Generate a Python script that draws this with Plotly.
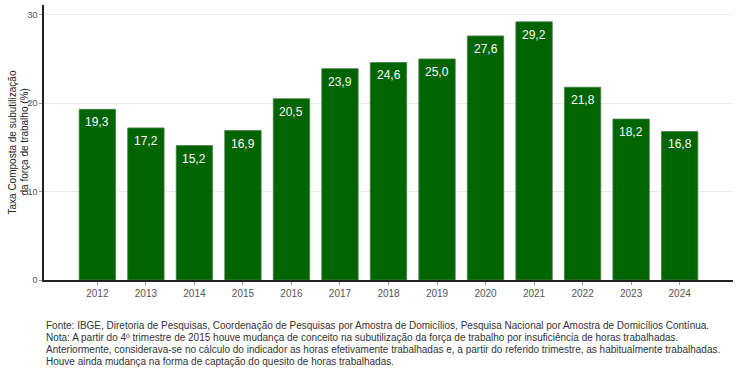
import plotly.graph_objects as go

years = [2012, 2013, 2014, 2015, 2016, 2017, 2018, 2019, 2020, 2021, 2022, 2023, 2024]
values = [19.3, 17.2, 15.2, 16.9, 20.5, 23.9, 24.6, 25.0, 27.6, 29.2, 21.8, 18.2, 16.8]
labels = [f"{v:.1f}".replace(".", ",") for v in values]
y_ticks = [0, 10, 20, 30]
y_title_lines = ["Taxa Composta de subutilização", "da força de trabalho (%)"]

footer_lines = [
    "Fonte: IBGE, Diretoria de Pesquisas, Coordenação de Pesquisas por Amostra de Domicílios, Pesquisa Nacional por Amostra de Domicílios Contínua.",
    "Nota: A partir do 4º trimestre de 2015 houve mudança de conceito na subutilização da força de trabalho por insuficiência de horas trabalhadas.",
    "Anteriormente, considerava-se no cálculo do indicador as horas efetivamente trabalhadas e, a partir do referido trimestre, as habitualmente trabalhadas.",
    "Houve ainda mudança na forma de captação do quesito de horas trabalhadas.",
]

fig = go.Figure()
fig.add_trace(go.Bar(
    x=years, y=values, width=0.75,
    marker=dict(color="#006400", line=dict(color="#4d7f4d", width=0.8)),
    hoverinfo="x+y",
))
for x, v, t in zip(years, values, labels):
    fig.add_annotation(x=x, y=v, text=t, showarrow=False, yanchor="top", yshift=-4,
                       font=dict(family="Liberation Sans, Arial", size=12, color="white"))

for i, line in enumerate(footer_lines):
    fig.add_annotation(xref="paper", yref="paper", x=0, y=0, xanchor="left", yanchor="middle",
                       yshift=-(45 + 12 * i), text=line, showarrow=False, align="left",
                       font=dict(family="Liberation Sans, Arial", size=10, color="#333333"))

for i, line in enumerate(y_title_lines):
    fig.add_annotation(xref="paper", yref="paper", x=0, y=0.5, xshift=-32 + 12 * i, textangle=-90,
                       xanchor="center", yanchor="middle", showarrow=False, text=line,
                       font=dict(family="Liberation Sans, Arial", size=10, color="#222222"))

fig.update_layout(
    width=740, height=370,
    margin=dict(l=44, r=7, t=5, b=90, autoexpand=False),
    paper_bgcolor="white", plot_bgcolor="white",
    showlegend=False,
    bargap=0.25,
    font=dict(family="Liberation Sans, Arial", color="#444444"),
)
fig.update_xaxes(
    range=[2010.9, 2025.1], tickvals=years, ticktext=[str(y) for y in years],
    showgrid=False, showline=True, linecolor="#222222", linewidth=1.5,
    ticks="outside", ticklen=3, tickcolor="#999999", automargin=False,
    tickfont=dict(size=10, color="#555555"), zeroline=False,
)
fig.update_yaxes(
    range=[0, 31.1], tickvals=y_ticks, ticktext=[str(v) for v in y_ticks],
    showgrid=True, gridcolor="#ebebeb", gridwidth=1,
    showline=True, linecolor="#222222", linewidth=1.5,
    ticks="outside", ticklen=3, tickcolor="#999999", automargin=False,
    tickfont=dict(size=9, color="#555555"), zeroline=False,
)
fig.write_html("out.html", config={"displayModeBar": False},
               post_script="document.body.style.margin='0';")
